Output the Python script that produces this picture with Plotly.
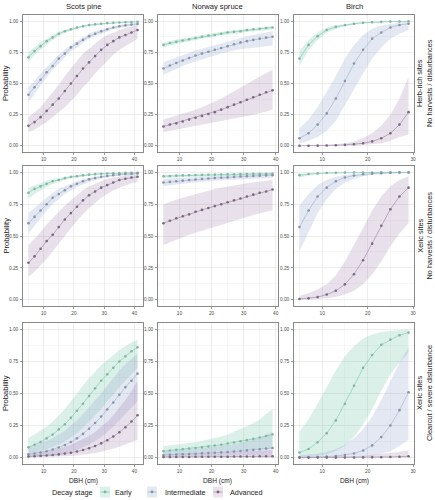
import plotly.graph_objects as go

# ---------------- data ----------------
dbh_pine = [5, 7, 9, 11, 13, 15, 17, 19, 21, 23, 25, 27, 29, 31, 33, 35, 37, 39, 41]
dbh_spruce = [5, 7, 9, 11, 13, 15, 17, 19, 21, 23, 25, 27, 29, 31, 33, 35, 37, 39]
dbh_birch = [5, 7, 9, 11, 13, 15, 17, 19, 21, 23, 25, 27, 29]

species = ["Scots pine", "Norway spruce", "Birch"]
sites = ["Herb-rich sites<br>No harvests / disturbances",
         "Xeric sites<br>No harvests / disturbances",
         "Xeric sites<br>Clearcut / severe disturbance"]
stages = ["Early", "Intermediate", "Advanced"]

# Row 1: herb-rich, no harvests
pine_herb_early = [0.71,0.76,0.80,0.84,0.87,0.90,0.92,0.935,0.95,0.96,0.97,0.975,0.98,0.985,0.988,0.99,0.992,0.994,0.995]
pine_herb_early_lo = [0.67,0.73,0.77,0.81,0.85,0.88,0.905,0.923,0.94,0.952,0.962,0.968,0.974,0.98,0.984,0.986,0.988,0.99,0.991]
pine_herb_early_hi = [0.75,0.79,0.83,0.86,0.89,0.915,0.933,0.947,0.958,0.967,0.976,0.981,0.985,0.989,0.991,0.993,0.995,0.996,0.997]
pine_herb_int = [0.41,0.47,0.53,0.59,0.64,0.70,0.74,0.79,0.82,0.85,0.88,0.90,0.92,0.935,0.95,0.96,0.967,0.973,0.978]
pine_herb_int_lo = [0.35,0.42,0.48,0.55,0.61,0.66,0.71,0.76,0.79,0.83,0.86,0.88,0.90,0.92,0.935,0.945,0.953,0.96,0.966]
pine_herb_int_hi = [0.47,0.52,0.58,0.63,0.68,0.73,0.77,0.81,0.84,0.87,0.90,0.92,0.935,0.95,0.962,0.971,0.978,0.983,0.987]
pine_herb_adv = [0.16,0.19,0.23,0.28,0.33,0.38,0.44,0.50,0.56,0.62,0.67,0.72,0.77,0.81,0.84,0.87,0.89,0.91,0.93]
pine_herb_adv_lo = [0.11,0.13,0.16,0.19,0.23,0.27,0.31,0.36,0.41,0.47,0.52,0.58,0.63,0.68,0.73,0.77,0.80,0.83,0.86]
pine_herb_adv_hi = [0.23,0.27,0.31,0.37,0.43,0.49,0.56,0.62,0.68,0.74,0.78,0.82,0.86,0.89,0.91,0.93,0.945,0.955,0.965]

spruce_herb_early = [0.81,0.825,0.835,0.845,0.855,0.865,0.875,0.885,0.89,0.90,0.91,0.915,0.92,0.93,0.935,0.94,0.945,0.95]
spruce_herb_early_lo = [0.79,0.805,0.817,0.828,0.839,0.849,0.859,0.869,0.875,0.885,0.895,0.90,0.905,0.914,0.919,0.924,0.929,0.933]
spruce_herb_early_hi = [0.83,0.843,0.853,0.862,0.871,0.88,0.89,0.899,0.905,0.914,0.923,0.928,0.933,0.942,0.947,0.952,0.957,0.962]
spruce_herb_int = [0.62,0.645,0.665,0.685,0.705,0.725,0.74,0.755,0.77,0.785,0.80,0.815,0.83,0.84,0.85,0.86,0.868,0.875]
spruce_herb_int_lo = [0.57,0.595,0.62,0.64,0.66,0.68,0.695,0.71,0.725,0.74,0.755,0.765,0.775,0.785,0.79,0.795,0.80,0.805]
spruce_herb_int_hi = [0.67,0.69,0.71,0.73,0.75,0.765,0.78,0.795,0.81,0.825,0.84,0.855,0.87,0.88,0.89,0.90,0.91,0.92]
spruce_herb_adv = [0.155,0.17,0.18,0.195,0.21,0.225,0.24,0.255,0.27,0.29,0.31,0.33,0.35,0.37,0.39,0.41,0.43,0.445]
spruce_herb_adv_lo = [0.11,0.12,0.13,0.14,0.15,0.16,0.17,0.18,0.19,0.20,0.21,0.22,0.23,0.24,0.25,0.26,0.275,0.29]
spruce_herb_adv_hi = [0.21,0.225,0.24,0.255,0.27,0.29,0.31,0.33,0.355,0.38,0.41,0.44,0.47,0.50,0.53,0.56,0.585,0.61]

birch_herb_early = [0.70,0.81,0.88,0.93,0.955,0.97,0.98,0.988,0.992,0.995,0.997,0.998,0.999]
birch_herb_early_lo = [0.64,0.77,0.85,0.91,0.94,0.96,0.972,0.982,0.987,0.991,0.994,0.996,0.997]
birch_herb_early_hi = [0.76,0.85,0.91,0.95,0.968,0.979,0.986,0.992,0.995,0.997,0.998,0.999,0.9995]
birch_herb_int = [0.06,0.10,0.17,0.26,0.38,0.52,0.66,0.77,0.86,0.91,0.95,0.97,0.98]
birch_herb_int_lo = [0.02,0.04,0.07,0.12,0.20,0.32,0.45,0.58,0.70,0.79,0.86,0.90,0.93]
birch_herb_int_hi = [0.14,0.21,0.31,0.43,0.56,0.70,0.81,0.89,0.94,0.965,0.98,0.99,0.995]
birch_herb_adv = [0.0,0.0,0.001,0.002,0.004,0.007,0.012,0.02,0.035,0.06,0.10,0.17,0.27]
birch_herb_adv_lo = [0.0,0.0,0.0,0.0,0.0,0.001,0.003,0.006,0.012,0.02,0.04,0.07,0.09]
birch_herb_adv_hi = [0.002,0.003,0.005,0.008,0.013,0.02,0.035,0.06,0.10,0.16,0.25,0.38,0.55]

# Row 2: xeric, no harvests
pine_xeric_early = [0.84,0.87,0.89,0.91,0.93,0.94,0.955,0.965,0.97,0.977,0.982,0.986,0.989,0.991,0.993,0.995,0.996,0.997,0.997]
pine_xeric_early_lo = [0.79,0.83,0.86,0.885,0.91,0.925,0.94,0.952,0.96,0.968,0.974,0.979,0.983,0.986,0.989,0.991,0.993,0.994,0.995]
pine_xeric_early_hi = [0.88,0.90,0.92,0.935,0.947,0.956,0.967,0.975,0.98,0.985,0.988,0.991,0.993,0.995,0.996,0.997,0.998,0.998,0.999]
pine_xeric_int = [0.60,0.65,0.70,0.75,0.80,0.83,0.86,0.89,0.91,0.93,0.945,0.955,0.965,0.972,0.978,0.983,0.987,0.99,0.992]
pine_xeric_int_lo = [0.52,0.58,0.64,0.70,0.75,0.79,0.83,0.86,0.885,0.905,0.925,0.94,0.95,0.96,0.967,0.973,0.978,0.982,0.985]
pine_xeric_int_hi = [0.68,0.72,0.76,0.80,0.84,0.87,0.89,0.915,0.93,0.947,0.96,0.968,0.976,0.981,0.986,0.99,0.992,0.994,0.996]
pine_xeric_adv = [0.29,0.34,0.40,0.46,0.51,0.57,0.63,0.68,0.73,0.78,0.82,0.85,0.88,0.90,0.92,0.94,0.95,0.96,0.965]
pine_xeric_adv_lo = [0.18,0.22,0.27,0.32,0.38,0.44,0.50,0.56,0.62,0.67,0.72,0.76,0.80,0.83,0.86,0.88,0.90,0.915,0.925]
pine_xeric_adv_hi = [0.43,0.48,0.53,0.59,0.64,0.69,0.74,0.78,0.82,0.86,0.89,0.91,0.93,0.95,0.96,0.97,0.978,0.984,0.988]

spruce_xeric_early = [0.97,0.972,0.974,0.976,0.977,0.979,0.98,0.981,0.982,0.983,0.984,0.985,0.986,0.987,0.988,0.988,0.989,0.99]
spruce_xeric_early_lo = [0.955,0.958,0.961,0.963,0.965,0.967,0.968,0.97,0.971,0.972,0.973,0.974,0.975,0.976,0.977,0.977,0.978,0.979]
spruce_xeric_early_hi = [0.98,0.982,0.983,0.984,0.985,0.986,0.987,0.988,0.989,0.99,0.991,0.992,0.993,0.993,0.994,0.994,0.995,0.995]
spruce_xeric_int = [0.92,0.925,0.93,0.935,0.94,0.944,0.948,0.952,0.955,0.958,0.961,0.964,0.967,0.97,0.972,0.974,0.976,0.978]
spruce_xeric_int_lo = [0.89,0.897,0.904,0.91,0.916,0.921,0.926,0.93,0.934,0.937,0.94,0.943,0.946,0.949,0.951,0.953,0.955,0.957]
spruce_xeric_int_hi = [0.95,0.953,0.956,0.959,0.962,0.965,0.968,0.97,0.973,0.975,0.977,0.979,0.981,0.983,0.985,0.986,0.987,0.988]
spruce_xeric_adv = [0.60,0.62,0.64,0.655,0.67,0.69,0.705,0.72,0.735,0.75,0.765,0.78,0.795,0.81,0.825,0.84,0.85,0.865]
spruce_xeric_adv_lo = [0.43,0.45,0.47,0.49,0.51,0.53,0.545,0.56,0.575,0.59,0.605,0.62,0.635,0.65,0.665,0.68,0.69,0.70]
spruce_xeric_adv_hi = [0.75,0.77,0.785,0.80,0.815,0.83,0.845,0.86,0.87,0.88,0.89,0.90,0.91,0.915,0.92,0.93,0.935,0.94]

birch_xeric_early = [0.978,0.987,0.992,0.995,0.997,0.998,0.999,0.999,0.9995,0.9997,0.9998,0.9999,0.9999]
birch_xeric_early_lo = [0.96,0.975,0.985,0.99,0.994,0.996,0.997,0.998,0.999,0.9993,0.9995,0.9997,0.9998]
birch_xeric_early_hi = [0.99,0.994,0.996,0.998,0.999,0.999,0.9995,0.9997,0.9998,0.9999,0.9999,1.0,1.0]
birch_xeric_int = [0.57,0.70,0.81,0.88,0.93,0.96,0.975,0.985,0.99,0.994,0.996,0.998,0.999]
birch_xeric_int_lo = [0.38,0.53,0.68,0.79,0.87,0.92,0.95,0.97,0.98,0.987,0.992,0.995,0.997]
birch_xeric_int_hi = [0.74,0.83,0.90,0.94,0.965,0.98,0.988,0.993,0.996,0.998,0.999,0.9995,0.9997]
birch_xeric_adv = [0.005,0.01,0.02,0.04,0.07,0.12,0.20,0.31,0.44,0.58,0.71,0.81,0.88]
birch_xeric_adv_lo = [0.001,0.002,0.005,0.01,0.02,0.04,0.07,0.12,0.20,0.30,0.42,0.52,0.60]
birch_xeric_adv_hi = [0.03,0.05,0.08,0.12,0.19,0.30,0.43,0.57,0.70,0.81,0.89,0.94,0.97]

# Row 3: xeric, clearcut
pine_cut_early = [0.08,0.10,0.122,0.15,0.18,0.22,0.26,0.31,0.365,0.42,0.48,0.54,0.60,0.65,0.70,0.75,0.79,0.83,0.86]
pine_cut_early_lo = [0.03,0.04,0.05,0.065,0.08,0.10,0.125,0.155,0.19,0.23,0.28,0.33,0.38,0.44,0.49,0.55,0.60,0.65,0.70]
pine_cut_early_hi = [0.15,0.18,0.21,0.24,0.28,0.33,0.38,0.44,0.50,0.56,0.62,0.67,0.72,0.76,0.80,0.84,0.87,0.90,0.92]
pine_cut_int = [0.025,0.032,0.04,0.05,0.063,0.079,0.098,0.122,0.15,0.185,0.225,0.27,0.32,0.375,0.43,0.49,0.55,0.60,0.655]
pine_cut_int_lo = [0.006,0.008,0.011,0.015,0.02,0.027,0.036,0.047,0.06,0.08,0.10,0.13,0.16,0.20,0.24,0.29,0.34,0.39,0.44]
pine_cut_int_hi = [0.08,0.095,0.11,0.13,0.15,0.18,0.21,0.25,0.29,0.34,0.39,0.45,0.50,0.56,0.62,0.68,0.73,0.77,0.81]
pine_cut_adv = [0.008,0.010,0.013,0.016,0.020,0.025,0.031,0.038,0.047,0.059,0.073,0.090,0.111,0.135,0.164,0.198,0.237,0.281,0.33]
pine_cut_adv_lo = [0.002,0.003,0.004,0.005,0.006,0.008,0.01,0.013,0.017,0.022,0.028,0.035,0.045,0.055,0.07,0.085,0.10,0.12,0.14]
pine_cut_adv_hi = [0.03,0.035,0.04,0.05,0.06,0.07,0.085,0.10,0.12,0.145,0.17,0.20,0.24,0.28,0.33,0.39,0.45,0.52,0.60]

spruce_cut_early = [0.05,0.055,0.06,0.065,0.07,0.075,0.08,0.087,0.094,0.10,0.11,0.118,0.127,0.136,0.146,0.157,0.168,0.18]
spruce_cut_early_lo = [0.02,0.022,0.025,0.028,0.031,0.034,0.037,0.04,0.043,0.046,0.05,0.053,0.057,0.06,0.063,0.066,0.069,0.072]
spruce_cut_early_hi = [0.09,0.095,0.10,0.105,0.11,0.12,0.13,0.14,0.15,0.165,0.18,0.20,0.22,0.245,0.27,0.30,0.34,0.38]
spruce_cut_int = [0.02,0.022,0.024,0.026,0.028,0.03,0.033,0.035,0.038,0.041,0.044,0.048,0.052,0.056,0.06,0.065,0.07,0.075]
spruce_cut_int_lo = [0.006,0.007,0.008,0.009,0.01,0.011,0.012,0.013,0.014,0.015,0.016,0.017,0.018,0.019,0.02,0.021,0.022,0.023]
spruce_cut_int_hi = [0.05,0.053,0.056,0.06,0.064,0.068,0.073,0.078,0.084,0.09,0.097,0.105,0.115,0.125,0.14,0.155,0.175,0.20]
spruce_cut_adv = [0.004,0.004,0.005,0.005,0.005,0.006,0.006,0.006,0.007,0.007,0.007,0.008,0.008,0.009,0.009,0.01,0.01,0.011]
spruce_cut_adv_lo = [0.001,0.001,0.001,0.001,0.001,0.001,0.001,0.001,0.001,0.001,0.001,0.001,0.001,0.001,0.001,0.001,0.001,0.001]
spruce_cut_adv_hi = [0.02,0.022,0.024,0.026,0.028,0.03,0.032,0.034,0.036,0.038,0.04,0.042,0.045,0.048,0.051,0.054,0.057,0.06]

birch_cut_early = [0.04,0.067,0.12,0.19,0.29,0.42,0.56,0.70,0.80,0.88,0.92,0.955,0.975]
birch_cut_early_lo = [0.003,0.006,0.012,0.025,0.05,0.09,0.16,0.26,0.38,0.52,0.65,0.74,0.82]
birch_cut_early_hi = [0.20,0.30,0.42,0.55,0.68,0.79,0.87,0.93,0.96,0.98,0.99,0.995,0.998]
birch_cut_int = [0.002,0.003,0.005,0.008,0.012,0.02,0.032,0.055,0.095,0.16,0.25,0.37,0.51]
birch_cut_int_lo = [0.0,0.0,0.0,0.0,0.001,0.002,0.004,0.008,0.015,0.03,0.05,0.09,0.14]
birch_cut_int_hi = [0.02,0.025,0.03,0.045,0.065,0.10,0.15,0.22,0.32,0.45,0.60,0.74,0.86]
birch_cut_adv = [0.0,0.0,0.0,0.0,0.0,0.0005,0.001,0.0015,0.002,0.003,0.005,0.007,0.01]
birch_cut_adv_lo = [0.0,0.0,0.0,0.0,0.0,0.0,0.0,0.0,0.0,0.0,0.0,0.0,0.0]
birch_cut_adv_hi = [0.001,0.002,0.003,0.004,0.006,0.008,0.011,0.015,0.02,0.027,0.035,0.045,0.055]

x_ranges = [[3.2, 42.8], [3.3, 40.7], [3.8, 30.2]]
dbh_by_col = [dbh_pine, dbh_spruce, dbh_birch]

panels = {
    (0, 0): [(pine_herb_early, pine_herb_early_lo, pine_herb_early_hi),
             (pine_herb_int, pine_herb_int_lo, pine_herb_int_hi),
             (pine_herb_adv, pine_herb_adv_lo, pine_herb_adv_hi)],
    (0, 1): [(spruce_herb_early, spruce_herb_early_lo, spruce_herb_early_hi),
             (spruce_herb_int, spruce_herb_int_lo, spruce_herb_int_hi),
             (spruce_herb_adv, spruce_herb_adv_lo, spruce_herb_adv_hi)],
    (0, 2): [(birch_herb_early, birch_herb_early_lo, birch_herb_early_hi),
             (birch_herb_int, birch_herb_int_lo, birch_herb_int_hi),
             (birch_herb_adv, birch_herb_adv_lo, birch_herb_adv_hi)],
    (1, 0): [(pine_xeric_early, pine_xeric_early_lo, pine_xeric_early_hi),
             (pine_xeric_int, pine_xeric_int_lo, pine_xeric_int_hi),
             (pine_xeric_adv, pine_xeric_adv_lo, pine_xeric_adv_hi)],
    (1, 1): [(spruce_xeric_early, spruce_xeric_early_lo, spruce_xeric_early_hi),
             (spruce_xeric_int, spruce_xeric_int_lo, spruce_xeric_int_hi),
             (spruce_xeric_adv, spruce_xeric_adv_lo, spruce_xeric_adv_hi)],
    (1, 2): [(birch_xeric_early, birch_xeric_early_lo, birch_xeric_early_hi),
             (birch_xeric_int, birch_xeric_int_lo, birch_xeric_int_hi),
             (birch_xeric_adv, birch_xeric_adv_lo, birch_xeric_adv_hi)],
    (2, 0): [(pine_cut_early, pine_cut_early_lo, pine_cut_early_hi),
             (pine_cut_int, pine_cut_int_lo, pine_cut_int_hi),
             (pine_cut_adv, pine_cut_adv_lo, pine_cut_adv_hi)],
    (2, 1): [(spruce_cut_early, spruce_cut_early_lo, spruce_cut_early_hi),
             (spruce_cut_int, spruce_cut_int_lo, spruce_cut_int_hi),
             (spruce_cut_adv, spruce_cut_adv_lo, spruce_cut_adv_hi)],
    (2, 2): [(birch_cut_early, birch_cut_early_lo, birch_cut_early_hi),
             (birch_cut_int, birch_cut_int_lo, birch_cut_int_hi),
             (birch_cut_adv, birch_cut_adv_lo, birch_cut_adv_hi)],
}

# ---------------- style ----------------
W, H = 435, 500
FONT = "Liberation Sans, Arial, sans-serif"
ribbon_colors = ["rgba(102,194,165,0.24)", "rgba(141,160,203,0.24)", "rgba(140,100,150,0.20)"]
key_fill = ["#dbf1e9", "#e3e9f2", "#ebe3ec"]
line_colors = ["#7fd0b2", "#a3b6d8", "#a98cb0"]
point_colors = ["#86b5a2", "#8895a4", "#75697b"]

col_px = [(23, 143), (158, 278), (294, 414)]
row_px = [(15, 152), (166, 306), (323, 464)]

def px_x(p):
    return p / W

def px_y(p):
    return 1 - p / H

fig = go.Figure()
layout_axes = {}

for r in range(3):
    for c in range(3):
        k = r * 3 + c + 1
        xa = "x" if k == 1 else f"x{k}"
        ya = "y" if k == 1 else f"y{k}"
        xs = dbh_by_col[c]
        series = panels[(r, c)]
        for i, (mid, lo, hi) in enumerate(series):
            fig.add_trace(go.Scatter(
                x=xs + xs[::-1], y=hi + lo[::-1], fill="toself",
                fillcolor=ribbon_colors[i], line=dict(width=0), mode="lines",
                hoverinfo="skip", showlegend=False, xaxis=xa, yaxis=ya))
        for i, (mid, lo, hi) in enumerate(series):
            fig.add_trace(go.Scatter(
                x=xs, y=mid, mode="lines", line=dict(color=line_colors[i], width=0.7),
                showlegend=False, name=stages[i], xaxis=xa, yaxis=ya))
            fig.add_trace(go.Scatter(
                x=xs, y=mid, mode="markers",
                marker=dict(color=point_colors[i], size=2.6, line=dict(width=0)),
                showlegend=False, name=stages[i], xaxis=xa, yaxis=ya))
        common = dict(
            showline=True, mirror=True, linecolor="#6b6b6b", linewidth=0.8,
            showgrid=True, gridcolor="#e6e6e6", gridwidth=0.7,
            zeroline=False, ticks="outside", ticklen=2, tickwidth=0.6, tickcolor="#555",
            tickfont=dict(family=FONT, size=4.8, color="#4d4d4d"),
            automargin=False, fixedrange=True,
        )
        layout_axes["xaxis" if k == 1 else f"xaxis{k}"] = dict(
            common, domain=[px_x(col_px[c][0]), px_x(col_px[c][1])],
            range=x_ranges[c], tickmode="linear", tick0=0, dtick=10,
            minor=dict(tick0=5, dtick=10, showgrid=True, gridcolor="#f2f2f2", gridwidth=0.5, ticks=""),
            anchor=ya, ticklabelstandoff=0)
        layout_axes["yaxis" if k == 1 else f"yaxis{k}"] = dict(
            common, domain=[px_y(row_px[r][1]), px_y(row_px[r][0])],
            range=[-0.05, 1.05], tickmode="array", tickvals=[0, 0.25, 0.5, 0.75, 1.0],
            ticktext=["0.00", "0.25", "0.50", "0.75", "1.00"],
            minor=dict(tickvals=[0.125, 0.375, 0.625, 0.875], showgrid=True, gridcolor="#f2f2f2", gridwidth=0.5, ticks=""),
            anchor=xa, ticklabelstandoff=1)

annotations = []
txt = "#1a1a1a"
for c, name in enumerate(species):
    cx = (col_px[c][0] + col_px[c][1]) / 2
    annotations.append(dict(text=name, x=px_x(cx), y=px_y(6), xref="paper", yref="paper",
                            showarrow=False, font=dict(family=FONT, size=7.6, color=txt),
                            xanchor="center", yanchor="middle"))
    annotations.append(dict(text="DBH (cm)", x=px_x(cx), y=px_y(476), xref="paper", yref="paper",
                            showarrow=False, font=dict(family=FONT, size=6.6, color=txt),
                            xanchor="center", yanchor="top", borderpad=0))
for r, name in enumerate(sites):
    cy = (row_px[r][0] + row_px[r][1]) / 2
    annotations.append(dict(text="Probability", x=px_x(5.5), y=px_y(cy), xref="paper", yref="paper",
                            showarrow=False, textangle=-90, font=dict(family=FONT, size=7.6, color=txt),
                            xanchor="center", yanchor="middle"))
    annotations.append(dict(text=name, x=px_x(424.5), y=px_y(cy), xref="paper", yref="paper",
                            showarrow=False, textangle=-90, font=dict(family=FONT, size=7.4, color=txt),
                            xanchor="center", yanchor="middle"))

# legend (manual)
shapes = []
leg_y = 492
annotations.append(dict(text="Decay stage", x=px_x(50), y=px_y(leg_y), xref="paper", yref="paper",
                        showarrow=False, font=dict(family=FONT, size=7.3, color=txt),
                        xanchor="left", yanchor="middle"))
key_x = [100, 147, 213]
label_x = [113, 163, 228]
for i, st in enumerate(stages):
    x0, x1 = key_x[i], key_x[i] + 10
    shapes.append(dict(type="rect", xref="paper", yref="paper",
                       x0=px_x(x0), x1=px_x(x1), y0=px_y(leg_y + 5.5), y1=px_y(leg_y - 5.5),
                       fillcolor=key_fill[i], line=dict(width=0), layer="above"))
    shapes.append(dict(type="line", xref="paper", yref="paper",
                       x0=px_x(x0 + 0.5), x1=px_x(x1 - 0.5), y0=px_y(leg_y), y1=px_y(leg_y),
                       line=dict(color=line_colors[i], width=0.8), layer="above"))
    shapes.append(dict(type="circle", xref="paper", yref="paper",
                       x0=px_x(x0 + 3.6), x1=px_x(x1 - 3.6), y0=px_y(leg_y + 1.4), y1=px_y(leg_y - 1.4),
                       fillcolor=point_colors[i], line=dict(width=0), layer="above"))
    annotations.append(dict(text=st, x=px_x(label_x[i]), y=px_y(leg_y), xref="paper", yref="paper",
                            showarrow=False, font=dict(family=FONT, size=7.3, color=txt),
                            xanchor="left", yanchor="middle"))

fig.update_layout(
    width=W, height=H, template="none",
    margin=dict(l=0, r=0, t=0, b=0, pad=0),
    paper_bgcolor="white", plot_bgcolor="white",
    showlegend=False, annotations=annotations, shapes=shapes,
    font=dict(family=FONT), hovermode=False,
    **layout_axes,
)

fig.write_html(
    "out.html",
    config={"displayModeBar": False, "staticPlot": True},
    post_script="document.body.style.margin='0px';document.body.style.padding='0px';"
                "document.body.style.overflow='hidden';",
)
